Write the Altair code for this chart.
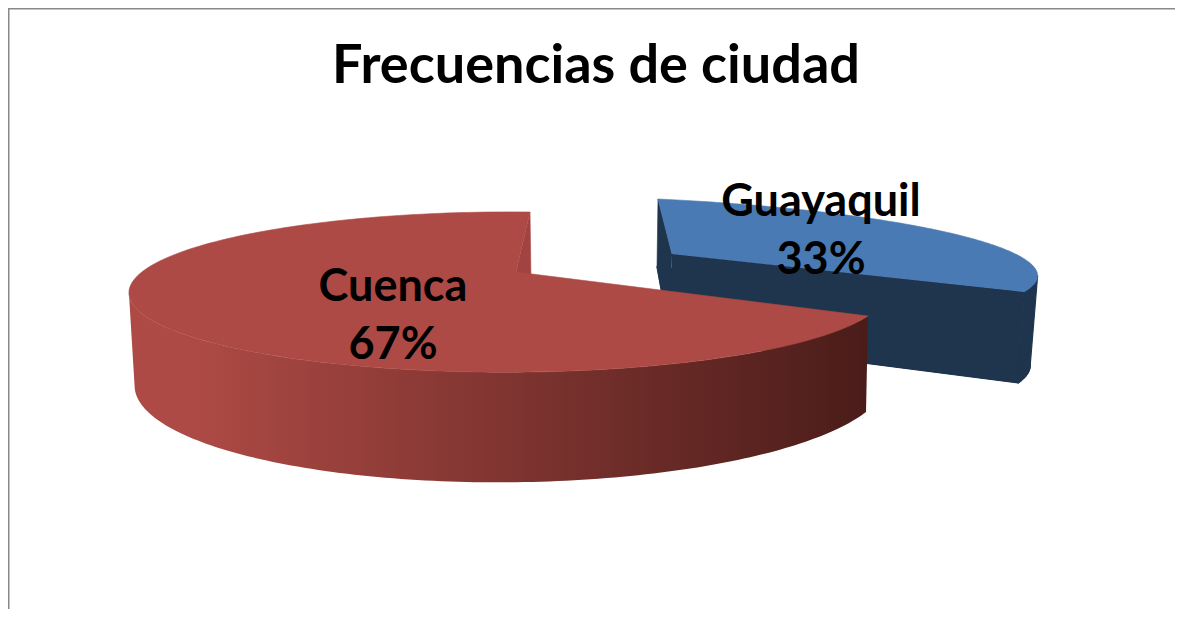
import numpy as np
import pandas as pd
import altair as alt

title_text = "Frecuencias de ciudad"
categories = ["Guayaquil", "Cuenca"]
values = [33, 67]

W, H = 1167, 601
XDOM, YDOM = [8, 8 + W], [8 + H, 8]


def homography(src, dst):
    A, b = [], []
    for (u, v), (x, y) in zip(src, dst):
        A.append([u, v, 1, 0, 0, 0, -u * x, -v * x]); b.append(x)
        A.append([0, 0, 0, u, v, 1, -u * y, -v * y]); b.append(y)
    h = np.linalg.solve(np.array(A, float), np.array(b, float))
    return np.append(h, 1).reshape(3, 3)


def uv(t):
    r = np.radians(t)
    return (np.sin(r), np.cos(r))


def project(m, t, radius=1.0):
    u, v = uv(t)
    p = m @ np.array([u * radius, v * radius, 1.0])
    return p[0] / p[2], p[1] / p[2]


cut = values[0] / sum(values) * 360
src_b = [(0, 0), uv(0), uv(cut), uv(90)]
src_r = [(0, 0), uv(cut), uv(360), uv(240)]

blue_top = homography(src_b, [(672, 254), (658, 199), (1024, 292), (1030, 263)])
blue_bot = homography(src_b, [(670, 338), (657, 267), (1018, 383), (1025, 353)])
red_top = homography(src_r, [(516, 272), (868, 316), (530, 212), (140, 312)])
red_bot = homography(src_r, [(516, 359), (866, 412), (531, 282), (147, 411)])


def poly(points):
    return pd.DataFrame({"x": [p[0] for p in points], "y": [p[1] for p in points],
                         "i": range(len(points))})


def arc(m, a, b, n=161):
    return [project(m, t) for t in np.linspace(a, b, n)]


def top_poly(m, a, b):
    return poly([project(m, 0, 0)] + arc(m, a, b))


def wall_poly(mt, mb, t):
    return poly([project(mt, t, 0), project(mt, t), project(mb, t), project(mb, t, 0)])


def outer_poly(mt, mb, a, b, edge):
    """Visible outer wall between the arc end at angle a and the silhouette."""
    ts = np.linspace(a, b, 241)
    top = [project(mt, t) for t in ts]
    bot = [project(mb, t) for t in ts]
    it = edge(np.array([p[0] for p in top]))
    ib = edge(np.array([p[0] for p in bot]))
    return poly(top[:it + 1] + bot[:ib + 1][::-1])


def x_enc():
    return alt.X("x:Q", scale=alt.Scale(domain=XDOM, nice=False, zero=False), axis=None)


def y_enc():
    return alt.Y("y:Q", scale=alt.Scale(domain=YDOM, nice=False, zero=False), axis=None)


def solid(df, color, sw=0.6):
    return alt.Chart(df).mark_line(fill=color, stroke=color, strokeWidth=sw, interpolate="linear").encode(
        x=x_enc(), y=y_enc(), order="i:Q")


BLUE, BLUE_DK = "#4a7ab3", "#1f344d"
RED, RED_WALL, RED_DK = "#ae4a45", "#a34341", "#4a1c19"

red_side = outer_poly(red_top, red_bot, cut, 360, np.argmin)
x0, x1 = red_side.x.min(), red_side.x.max()
red_gradient = alt.Gradient(
    gradient="linear", x1=0, y1=0, x2=1, y2=0,
    stops=[alt.GradientStop(color=RED, offset=0),
           alt.GradientStop(color=RED, offset=float((190 - x0) / (x1 - x0))),
           alt.GradientStop(color=RED_DK, offset=1)])

layers = [
    solid(top_poly(blue_bot, 0, cut), BLUE_DK, 1.2),
    solid(wall_poly(blue_top, blue_bot, 0), BLUE_DK),
    solid(wall_poly(blue_top, blue_bot, cut), BLUE_DK, 1.2),
    solid(outer_poly(blue_top, blue_bot, cut, 0, np.argmax), BLUE_DK, 1.2),
    solid(top_poly(blue_top, 0, cut), BLUE),
    solid(wall_poly(red_top, red_bot, 360), RED_WALL),
    alt.Chart(red_side).mark_line(fill=red_gradient, strokeWidth=0, interpolate="linear").encode(
        x=x_enc(), y=y_enc(), order="i:Q"),
    solid(top_poly(red_top, cut, 360), RED),
]

pct = [f"{round(v / sum(values) * 100)}%" for v in values]
labels = pd.DataFrame({
    "x": [821, 821, 393, 393],
    "y": [202, 260, 287, 345],
    "t": [categories[0], pct[0], categories[1], pct[1]],
})
layers.append(alt.Chart(labels).mark_text(font="Lato", fontWeight="bold", fontSize=45, color="#000000",
                                          align="center", baseline="middle").encode(
    x=x_enc(), y=y_enc(), text="t:N"))
layers.append(alt.Chart(pd.DataFrame({"x": [596], "y": [67], "t": [title_text]})).mark_text(
    font="Lato", fontWeight="bold", fontSize=54, color="#000000", align="center", baseline="middle").encode(
    x=x_enc(), y=y_enc(), text="t:N"))
layers.append(alt.Chart(pd.DataFrame({"a": [0]})).mark_rule(color="#888888", strokeWidth=1.5).encode(
    x=alt.value(0.75), y=alt.value(0), y2=alt.value(H)))
layers.append(alt.Chart(pd.DataFrame({"a": [0]})).mark_rule(color="#888888", strokeWidth=1.5).encode(
    x=alt.value(0), x2=alt.value(W), y=alt.value(0.75)))

chart = alt.layer(*layers).properties(
    width=W, height=H, padding=0, autosize=alt.AutoSizeParams(type="none"), background="#ffffff"
).configure_view(stroke=None)

chart.save("out.html", embed_options={"renderer": "svg", "actions": False})
